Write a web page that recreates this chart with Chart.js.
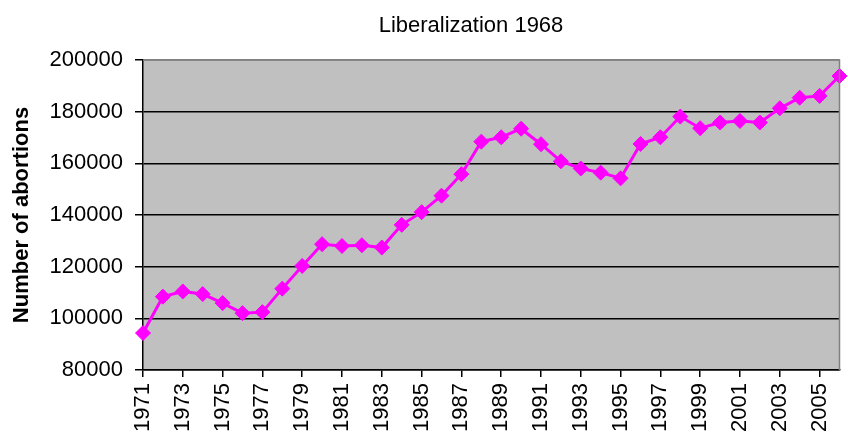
<!DOCTYPE html>
<html>
<head>
<meta charset="utf-8">
<script src="https://cdn.jsdelivr.net/npm/chart.js@4"></script>
<style>
  html, body { margin: 0; padding: 0; background: #fff; }
  #wrap { width: 848px; height: 438px; }
</style>
</head>
<body>
<div id="wrap"><canvas id="chart" width="848" height="438"></canvas></div>
<script>
const years = [];
for (let y = 1971; y <= 2006; y++) years.push(String(y));

const abortions = [
  94300, 108400, 110400, 109400, 105900, 102000, 102400, 111500, 120300, 128700,
  128000, 128300, 127400, 136200, 141100, 147500, 155800, 168400, 170100, 173400,
  167400, 160800, 158000, 156400, 154200, 167500, 170100, 178100, 173600, 175800,
  176400, 175800, 181300, 185400, 186100, 193800
];

const subtitle = "Liberalization 1968";
const yTitle = "Number of abortions";
const yMin = 80000, yMax = 200000, yStep = 20000;

const font = "'Liberation Sans', Arial, sans-serif";

// grey plot area + grey frame on top and right
const plotBg = {
  id: "plotBg",
  beforeDraw(chart) {
    const { ctx, chartArea: a } = chart;
    ctx.save();
    ctx.fillStyle = "#c0c0c0";
    ctx.fillRect(a.left, a.top, a.right - a.left, a.bottom - a.top);
    ctx.restore();
  },
  afterDatasetsDraw(chart) {
    const { ctx, chartArea: a } = chart;
    ctx.save();
    ctx.strokeStyle = "#808080";
    ctx.lineWidth = 1.5;
    ctx.beginPath();
    ctx.moveTo(a.left, a.top);
    ctx.lineTo(a.right, a.top);
    ctx.lineTo(a.right, a.bottom);
    ctx.stroke();
    ctx.fillStyle = "#000";
    ctx.font = "22px " + font;
    ctx.textAlign = "center";
    ctx.textBaseline = "alphabetic";
    ctx.fillText(subtitle, 471, 32);
    ctx.restore();
  }
};

new Chart(document.getElementById("chart"), {
  type: "line",
  data: {
    labels: years,
    datasets: [{
      data: abortions,
      borderColor: "#ff00ff",
      backgroundColor: "#ff00ff",
      borderWidth: 3,
      pointStyle: "rectRot",
      pointRadius: 7.5,
      pointBorderWidth: 1,
      tension: 0
    }]
  },
  options: {
    responsive: false,
    animation: false,
    clip: false,
    layout: { padding: { top: 60, right: 1, left: 0, bottom: 0 } },
    plugins: {
      legend: { display: false },
      tooltip: { enabled: false }
    },
    scales: {
      x: {
        offset: false,
        afterFit(scale) {
          scale.height = 68;
          scale.paddingLeft = 0;
          scale.paddingRight = 0;
        },
        grid: {
          drawOnChartArea: false,
          tickLength: 7,
          lineWidth: 1.5,
          color: (c) => (c.index % 2 === 0 ? "#000" : "rgba(0,0,0,0)")
        },
        border: { display: true, color: "#000", width: 1.5 },
        ticks: {
          autoSkip: false,
          minRotation: 90,
          maxRotation: 90,
          padding: 6,
          color: "#000",
          font: { family: font, size: 22 },
          callback(v, i) { return i % 2 === 0 ? this.getLabelForValue(v) : ""; }
        }
      },
      y: {
        min: yMin,
        max: yMax,
        afterFit(scale) { scale.width = 143; },
        grid: {
          color: (c) => (c.tick && c.tick.value === yMax ? "#808080" : "#000"),
          lineWidth: 1.5,
          tickLength: 8,
          tickColor: "#000"
        },
        border: { display: true, color: "#000", width: 1.5 },
        ticks: {
          stepSize: yStep,
          padding: 12,
          color: "#000",
          font: { family: font, size: 22 },
          callback: (v) => String(v)
        },
        title: {
          display: true,
          text: yTitle,
          color: "#000",
          padding: { top: 9, bottom: 0 },
          font: { family: font, size: 22, weight: "bold" }
        }
      }
    }
  },
  plugins: [plotBg]
});
</script>
</body>
</html>
